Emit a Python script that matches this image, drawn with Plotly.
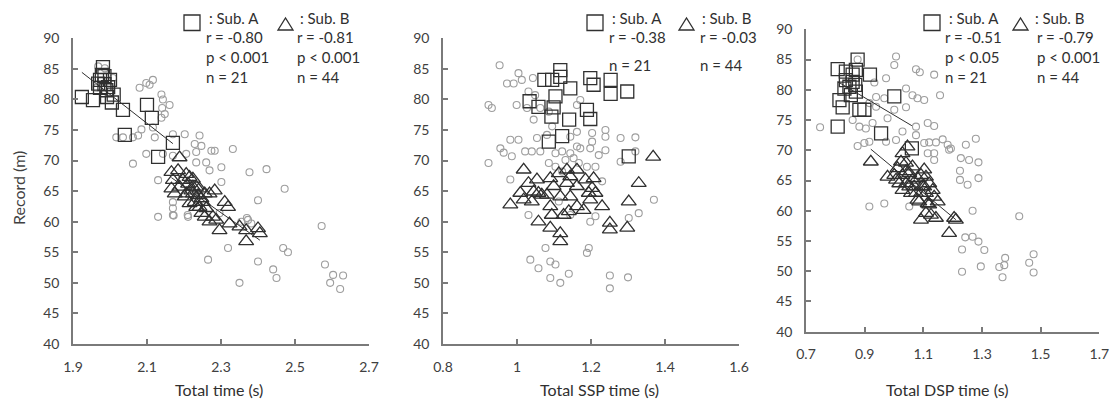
import numpy as np
import plotly.graph_objects as go

# ---------------- data ----------------
# Panel 1: Total time (s) vs Record (m)
p1_all_x = [1.968,1.986,2.008,1.963,2.080,2.098,2.116,2.107,2.139,2.143,2.161,2.141,2.148,2.139,
            2.017,2.035,2.062,2.076,2.121,2.116,2.085,2.170,2.202,2.242,2.229,2.247,2.274,2.283,
            2.332,2.233,2.206,2.170,2.098,2.143,2.062,2.233,2.260,2.301,2.269,2.377,2.423,2.472,
            2.400,2.130,2.301,2.170,2.170,2.170,2.130,2.211,2.296,2.355,2.373,2.382,2.319,2.265,
            2.400,2.350,2.441,2.450,2.468,2.481,2.572,2.581,2.603,2.630,2.595,2.622,2.370,2.172,2.210]
p1_all_y = [85.4,85.1,83.5,81.9,81.9,82.7,83.2,82.4,80.8,80.0,79.1,78.6,77.6,77.0,
            73.8,73.8,73.8,74.1,73.8,75.4,75.1,74.3,74.3,74.1,72.7,72.4,71.6,71.6,
            71.9,71.4,71.1,70.8,71.1,71.1,69.5,69.7,69.7,68.9,68.4,68.1,68.6,65.4,
            63.5,66.8,66.5,63.2,62.2,61.1,60.8,60.8,61.4,60.0,60.3,59.7,55.7,53.8,
            53.5,50.0,52.2,50.8,55.7,55.0,59.3,53.0,51.3,51.2,50.0,49.0,60.6,61.0,61.1]
p1_a_x = [1.924,1.954,1.981,1.973,2.000,1.973,1.992,1.985,1.990,1.978,1.995,2.035,2.040,2.100,
          2.113,2.170,2.130,1.968,2.005,1.985,2.010]
p1_a_y = [80.4,79.9,85.3,83.2,83.2,81.9,80.4,82.5,81.5,84.0,82.0,78.3,74.2,79.1,
          77.0,72.9,70.6,82.6,79.5,83.8,80.8]
p1_b_x = [2.188,2.166,2.170,2.166,2.188,2.206,2.211,2.224,2.220,2.233,2.238,2.229,2.242,2.247,
          2.256,2.269,2.283,2.310,2.319,2.269,2.296,2.323,2.368,2.400,2.405,2.368,2.202,2.215,
          2.251,2.260,2.197,2.184,2.224,2.206,2.242,2.256,2.278,2.175,2.224,2.233,2.215,2.247,
          2.287,2.350]
p1_b_y = [70.5,68.1,66.8,65.4,65.7,67.8,66.2,67.0,65.1,65.7,64.3,63.2,62.4,61.4,
          64.6,64.6,65.1,63.2,62.4,60.0,58.6,59.7,58.6,58.9,58.1,56.8,64.1,63.0,
          63.2,62.2,66.8,68.4,65.7,64.6,65.4,60.8,60.8,64.6,64.6,62.4,67.3,63.8,
          60.3,59.2]

# Panel 2: Total SSP time (s) vs Record (m)
p2_all_x = [0.953,0.973,0.991,1.004,1.013,1.043,1.031,0.999,0.923,0.932,1.027,1.045,1.095,1.081,
            1.144,1.162,1.203,1.203,1.239,1.239,1.280,1.320,1.320,1.239,1.221,1.198,1.171,1.162,
            1.144,1.122,1.104,1.063,1.040,1.022,1.004,0.982,0.955,0.964,0.986,0.923,0.982,1.086,
            1.189,1.212,1.230,1.280,1.370,1.329,1.302,1.031,1.198,1.077,1.194,1.189,1.036,1.058,
            1.090,1.104,1.090,1.117,1.140,1.251,1.251,1.300,1.104,1.131,1.153,1.167,1.122,1.113,
            1.212,1.144,1.054,1.049,1.063,1.162,1.086,1.171]
p2_all_y = [85.6,82.6,82.6,84.3,83.2,83.5,81.3,79.1,79.1,78.6,78.6,76.7,75.6,74.2,
            73.9,74.7,74.5,73.1,75.0,73.9,73.7,73.8,71.5,71.7,70.9,72.0,72.0,72.3,
            71.2,71.5,71.2,71.5,71.5,71.5,73.4,73.4,72.0,71.3,70.7,69.6,66.9,69.6,
            69.0,69.0,66.6,69.8,63.6,61.4,60.6,61.1,60.0,55.7,55.7,54.9,53.8,52.4,
            53.5,53.0,50.8,50.0,51.5,51.2,49.1,50.9,69.0,70.1,70.4,69.6,68.2,63.3,
            60.9,61.1,73.7,80.7,78.6,79.1,78.0,79.9]
p2_a_x = [1.117,1.074,1.095,1.144,1.198,1.207,1.253,1.253,1.298,1.034,1.058,1.104,1.093,1.141,
          1.189,1.198,1.086,1.122,1.302,1.117,1.099]
p2_a_y = [84.8,83.2,83.2,81.8,83.5,82.4,83.2,80.9,81.3,79.7,78.8,80.5,77.2,76.7,
          78.3,76.8,73.1,74.0,70.7,83.7,78.7]
p2_b_x = [1.368,1.329,1.302,1.298,1.251,1.251,1.230,1.207,1.203,1.194,1.212,1.162,1.162,1.135,
          1.113,1.135,1.090,1.099,1.054,1.018,1.031,1.009,0.982,1.018,1.058,1.081,1.090,1.094,
          1.058,1.090,1.117,1.117,1.140,1.126,1.162,1.180,1.117,1.144,1.067,1.045,1.040,1.198,
          1.185,1.144]
p2_b_y = [70.6,66.3,63.3,59.0,59.8,58.7,62.5,67.1,65.5,64.7,64.7,68.5,65.8,68.5,
          67.9,66.3,67.1,65.8,66.9,68.5,66.3,64.7,62.8,63.6,64.7,64.4,62.5,61.1,
          60.0,59.0,58.1,56.8,61.7,61.1,62.5,61.9,64.1,64.1,64.4,64.9,63.3,63.6,
          66.9,67.4]

# Panel 3: Total DSP time (s) vs Record (m)
p3_all_x = [0.748,0.876,1.007,1.001,1.075,1.088,1.137,1.157,0.933,0.973,0.939,0.967,1.041,1.063,
            1.080,1.103,1.041,1.001,0.978,1.075,1.115,1.137,1.029,1.007,0.916,0.876,0.899,0.973,
            1.075,1.103,1.120,1.143,1.166,1.183,1.194,1.188,1.245,1.279,1.137,1.137,1.115,1.228,
            1.256,1.288,1.225,1.225,1.251,1.288,0.916,0.967,1.052,1.268,1.427,1.243,1.268,1.288,
            1.308,1.232,1.232,1.296,1.359,1.379,1.376,1.370,1.461,1.476,1.476,0.859,0.882,0.904,
            0.927,0.939,0.916]
p3_all_y = [73.8,85.0,85.5,84.1,83.4,82.9,82.5,79.1,81.2,81.9,78.8,78.6,80.2,79.1,
            78.6,78.3,77.1,76.7,75.3,73.9,74.5,74.0,73.1,71.7,71.4,70.7,71.2,71.4,
            72.5,71.2,71.3,71.3,71.8,70.9,70.3,70.1,70.9,71.9,69.5,68.4,69.5,68.7,
            68.4,68.0,66.6,65.1,64.3,65.4,60.7,61.2,60.7,60.0,59.1,55.6,55.7,54.9,
            53.5,53.6,49.9,50.8,50.7,52.2,51.0,49.0,51.4,52.8,49.8,75.0,73.9,73.6,
            74.5,77.2,77.8]
p3_a_x = [0.876,0.808,0.836,0.870,0.918,0.836,0.859,0.848,1.001,0.814,0.825,0.882,0.899,0.808,
          0.956,1.061,0.859,0.831,0.870,0.853,0.868]
p3_a_y = [85.0,83.4,83.0,83.3,82.5,81.6,81.3,80.5,78.9,78.3,77.1,76.7,76.7,73.9,
          72.8,70.3,82.5,80.2,79.7,79.1,80.8]
p3_b_x = [0.921,1.046,0.978,1.001,1.012,1.024,1.029,1.029,1.041,1.052,1.063,1.080,1.092,1.075,
          1.086,1.103,1.109,1.120,1.132,1.149,1.092,1.126,1.143,1.188,1.211,1.205,1.018,1.063,
          1.041,1.097,1.115,1.137,1.069,1.092,1.058,1.041,1.007,1.109,1.120,1.109,1.103,1.052,
          1.080,1.029]
p3_b_y = [68.1,70.6,65.6,65.9,67.0,68.1,69.5,63.4,64.5,66.2,65.1,65.4,65.9,62.9,
          61.5,64.0,62.9,64.5,63.4,61.5,58.5,59.3,58.8,56.3,58.5,58.8,64.5,67.3,
          67.9,64.0,61.2,62.3,64.0,62.9,62.9,66.5,65.1,65.6,61.0,59.6,66.8,64.0,
          61.8,65.9]

x_titles = ["Total time (s)", "Total SSP time (s)", "Total DSP time (s)"]
x_ranges = [(1.9, 2.7), (0.8, 1.6), (0.7, 1.7)]
x_ticks = [[1.9, 2.1, 2.3, 2.5, 2.7], [0.8, 1.0, 1.2, 1.4, 1.6], [0.7, 0.9, 1.1, 1.3, 1.5, 1.7]]
x_ticktext = [["1.9", "2.1", "2.3", "2.5", "2.7"], ["0.8", "1", "1.2", "1.4", "1.6"],
              ["0.7", "0.9", "1.1", "1.3", "1.5", "1.7"]]
y_ticks = [40, 45, 50, 55, 60, 65, 70, 75, 80, 85, 90]
stats_a = [["r = -0.80", "p < 0.001", "n = 21"], ["r = -0.38", "n = 21"], ["r = -0.51", "p < 0.05", "n = 21"]]
stats_b = [["r = -0.81", "p < 0.001", "n = 44"], ["r = -0.03", "n = 44"], ["r = -0.79", "p < 0.001", "n = 44"]]
show_fit = [True, False, True]

# ---------------- figure ----------------
W, H = 1111, 401
FONT = "Lato"
TXT = "#404040"
INK = "#303030"
AX = "#7a7a7a"

def PX(px):
    return px / W

def PY(py):
    return 1 - py / H

panels = [
    (p1_all_x, p1_all_y, p1_a_x, p1_a_y, p1_b_x, p1_b_y),
    (p2_all_x, p2_all_y, p2_a_x, p2_a_y, p2_b_x, p2_b_y),
    (p3_all_x, p3_all_y, p3_a_x, p3_a_y, p3_b_x, p3_b_y),
]
# pixel geometry of each plot area: (left, right, top(y=90), bottom(y=40))
geo = [(73, 369, 38.3, 344), (443, 739, 38.3, 344), (806, 1099.3, 29.3, 331.7)]

fig = go.Figure()
for i, (ax_, ay_, aax, aay, bx, by) in enumerate(panels):
    xa = "x" if i == 0 else f"x{i+1}"
    ya = "y" if i == 0 else f"y{i+1}"
    fig.add_trace(go.Scatter(x=ax_, y=ay_, mode="markers", xaxis=xa, yaxis=ya,
                             marker=dict(symbol="circle-open", size=7, color="#9e9e9e",
                                         line=dict(width=1.1))))
    fig.add_trace(go.Scatter(x=aax, y=aay, mode="markers", xaxis=xa, yaxis=ya,
                             marker=dict(symbol="square-open", size=13, color=INK,
                                         line=dict(width=1.3))))
    fig.add_trace(go.Scatter(x=bx, y=by, mode="markers", xaxis=xa, yaxis=ya,
                             marker=dict(symbol="triangle-up-open", size=13, color=INK,
                                         line=dict(width=1.3))))
    if show_fit[i]:
        for gx, gy in ((aax, aay), (bx, by)):
            k, b0 = np.polyfit(gx, gy, 1)
            xs = np.array([min(gx), max(gx)])
            fig.add_trace(go.Scatter(x=xs, y=k * xs + b0, mode="lines", xaxis=xa, yaxis=ya,
                                     line=dict(color=INK, width=1)))

    l, r, t, btm = geo[i]
    xkey = "xaxis" if i == 0 else f"xaxis{i+1}"
    ykey = "yaxis" if i == 0 else f"yaxis{i+1}"
    fig.layout[xkey] = dict(domain=[PX(l), PX(r)], anchor=ya, range=list(x_ranges[i]),
                            tickvals=x_ticks[i], ticktext=x_ticktext[i], automargin=False,
                            showgrid=False, zeroline=False, showline=True, linecolor=AX,
                            linewidth=1.5, ticks="inside", ticklen=5, tickcolor=AX, tickwidth=1.5,
                            ticklabelstandoff=9,
                            tickfont=dict(family=FONT, size=14, color=TXT))
    fig.layout[ykey] = dict(domain=[PY(btm), PY(t)], anchor=xa, range=[40, 90],
                            tickvals=y_ticks, showgrid=False, zeroline=False, showline=True,
                            automargin=False,
                            linecolor=AX, linewidth=1.5, ticks="inside", ticklen=5, tickcolor=AX,
                            tickwidth=1.5, ticklabelstandoff=9,
                            tickfont=dict(family=FONT, size=14, color=TXT))

# annotations and legend key symbols
ann = []
shapes = []
def A(px, py, text, size=15, xanchor="left"):
    ann.append(dict(x=PX(px), y=PY(py), xref="paper", yref="paper", text=text,
                    showarrow=False, xanchor=xanchor, yanchor="middle",
                    font=dict(family=FONT, size=size, color=INK)))

# (square left, "Sub. A" text x, triangle left, "Sub. B" text x, stats A x, stats B x)
leg = [(184, 207, 278, 298, 204, 295), (587, 610, 679, 700, 607, 698),
       (924, 947, 1013, 1033, 943, 1035)]
for i, (sqx, sax, trx, sbx, ax0, bx0) in enumerate(leg):
    shapes.append(dict(type="rect", xref="paper", yref="paper",
                       x0=PX(sqx), x1=PX(sqx + 16), y0=PY(30.5), y1=PY(15),
                       line=dict(color=INK, width=1.3), fillcolor="rgba(0,0,0,0)"))
    shapes.append(dict(type="path", xref="paper", yref="paper",
                       path=f"M {PX(trx)} {PY(30)} L {PX(trx + 15)} {PY(30)} L {PX(trx + 7.5)} {PY(18)} Z",
                       line=dict(color=INK, width=1.3), fillcolor="rgba(0,0,0,0)"))
    A(sax, 17.5, ": Sub. A")
    A(sbx, 17.5, ": Sub. B")
    ys = [37, 57, 77] if len(stats_a[i]) == 3 else [37, 65]
    for s, yy in zip(stats_a[i], ys):
        A(ax0, yy, s)
    for s, yy in zip(stats_b[i], ys):
        A(bx0, yy, s)

for cx, title in zip([219, 599, 947], x_titles):
    A(cx, 389, title, size=16, xanchor="center")
ann.append(dict(x=PX(18), y=PY(188), xref="paper", yref="paper", text="Record (m)",
                showarrow=False, textangle=-90, xanchor="center", yanchor="middle",
                font=dict(family=FONT, size=16, color=TXT)))

fig.update_layout(template="none", width=W, height=H, margin=dict(l=0, r=0, t=0, b=0),
                  showlegend=False, paper_bgcolor="white", plot_bgcolor="white",
                  annotations=ann, shapes=shapes)
fig.write_html("out.html", config={"displayModeBar": False},
               post_script="document.body.style.margin='0px';document.body.style.overflow='hidden';")
